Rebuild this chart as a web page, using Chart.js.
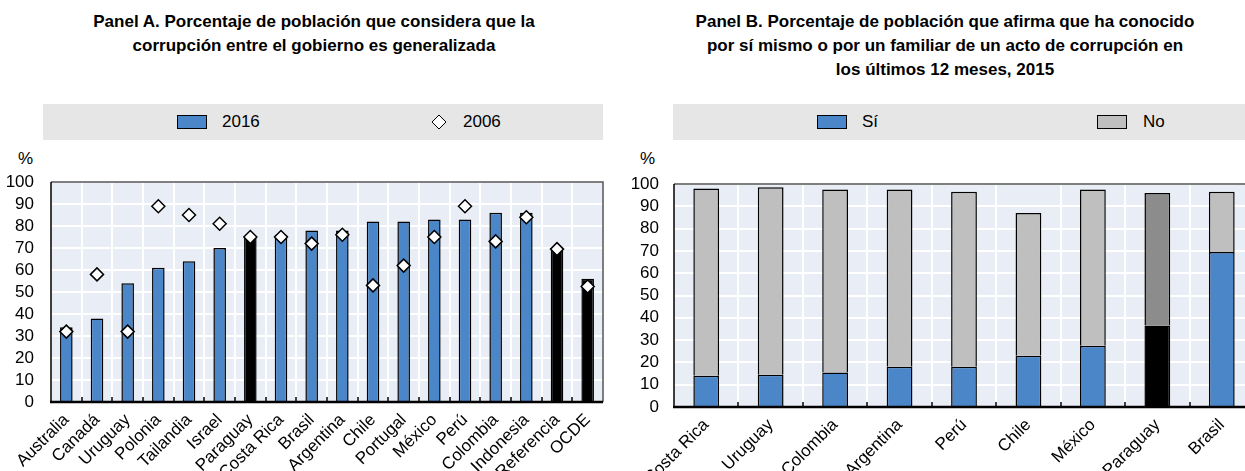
<!DOCTYPE html>
<html>
<head>
<meta charset="utf-8">
<script src="https://cdn.jsdelivr.net/npm/chart.js@4.4.1/dist/chart.umd.min.js"></script>
<style>
  html, body { margin: 0; padding: 0; width: 1245px; height: 471px; overflow: hidden; background: #fff; }
  body { position: relative; font-family: "Liberation Sans", Arial, sans-serif; color: #000; }
  .title { position: absolute; text-align: center; font-weight: bold; font-size: 17px; line-height: 24px; }
  .band { position: absolute; background: #e6e6e6; height: 36px; }
  .leg { position: absolute; font-size: 17px; line-height: 20px; }
  .sw { position: absolute; width: 28px; height: 12px; border: 1px solid #000; }
  .pct { position: absolute; font-size: 17px; }
  canvas { position: absolute; }
</style>
</head>
<body>
<div class="title" style="left:14px; top:10px; width:600px;">Panel A. Porcentaje de población que considera que la<br>corrupción entre el gobierno es generalizada</div>
<div class="title" style="left:645px; top:10px; width:600px;">Panel B. Porcentaje de población que afirma que ha conocido<br>por sí mismo o por un familiar de un acto de corrupción en<br>los últimos 12 meses, 2015</div>

<div class="band" style="left:43px; top:104px; width:560px;"></div>
<div class="sw" style="left:177px; top:115px; background:#4a86c8;"></div>
<div class="leg" style="left:222px; top:112px;">2016</div>
<svg style="position:absolute; left:431px; top:114px;" width="16" height="16"><polygon points="8,1 15,8 8,15 1,8" fill="#fff" stroke="#000" stroke-width="1"/></svg>
<div class="leg" style="left:463px; top:112px;">2006</div>

<div class="band" style="left:673px; top:104px; width:600px;"></div>
<div class="sw" style="left:817px; top:115px; background:#4a86c8;"></div>
<div class="leg" style="left:862px; top:112px;">Sí</div>
<div class="sw" style="left:1097px; top:115px; background:#bfbfbf;"></div>
<div class="leg" style="left:1143px; top:112px;">No</div>

<div class="pct" style="left:18px; top:149px;">%</div>
<div class="pct" style="left:640px; top:149px;">%</div>

<canvas id="cA" width="620" height="301" style="left:0px; top:170px;"></canvas>
<canvas id="cB" width="634" height="301" style="left:620px; top:170px;"></canvas>

<script>
// ---- Data ----
const catsA = ["Australia","Canadá","Uruguay","Polonia","Tailandia","Israel","Paraguay","Costa Rica","Brasil","Argentina","Chile","Portugal","México","Perú","Colombia","Indonesia","Referencia","OCDE"];
const vals2016 = [34, 38, 54, 61, 64, 70, 75, 76, 78, 78, 82, 82, 83, 83, 86, 86, 70, 56];
const vals2006 = [32, 58, 32, 89, 85, 81, 75, 75, 72, 76, 53, 62, 75, 89, 73, 84, 69.5, 52.5];
const highlightA = ["Paraguay","Referencia","OCDE"];

const catsB = ["Costa Rica","Uruguay","Colombia","Argentina","Perú","Chile","México","Paraguay","Brasil"];
const valsSi = [14, 14.5, 15.5, 18, 18, 23, 27.5, 36.5, 69.5];
const valsNo = [84, 84, 82, 79.5, 78.5, 64, 70, 59.5, 27];
const highlightB = ["Paraguay"];

const yTicks = [0,10,20,30,40,50,60,70,80,90,100];

// ---- Styling ----
const BLUE = "#4a86c8", GRAY = "#bfbfbf", DARKGRAY = "#8c8c8c", PLOTBG = "#e9edf5";
const tickFont = { family: "'Liberation Sans', Arial, sans-serif", size: 17 };
const xFont = { family: "'Liberation Sans', Arial, sans-serif", size: 17 };

const plotDeco = {
  id: "plotDeco",
  beforeDatasetsDraw(chart) {
    const { ctx, chartArea: a } = chart;
    const xs = chart.scales.x, ys = chart.scales.y;
    ctx.save();
    ctx.fillStyle = PLOTBG;
    ctx.fillRect(a.left, a.top, a.right - a.left, a.bottom - a.top);
    ctx.strokeStyle = "#ffffff";
    ctx.lineWidth = 2;
    yTicks.forEach(v => {
      const y = Math.round(ys.getPixelForValue(v));
      ctx.beginPath(); ctx.moveTo(a.left, y); ctx.lineTo(a.right, y); ctx.stroke();
    });
    const n = xs.getLabels().length;
    for (let i = 1; i < n; i++) {
      const x = Math.round((xs.getPixelForValue(i - 1) + xs.getPixelForValue(i)) / 2);
      ctx.beginPath(); ctx.moveTo(x, a.top); ctx.lineTo(x, a.bottom); ctx.stroke();
    }
    ctx.restore();
  },
  afterDatasetsDraw(chart) {
    const { ctx, chartArea: a } = chart;
    const xs = chart.scales.x;
    ctx.save();
    ctx.strokeStyle = "#555";
    ctx.lineWidth = 1.5;
    ctx.beginPath();
    ctx.moveTo(a.left, a.top); ctx.lineTo(a.right, a.top); ctx.lineTo(a.right, a.bottom);
    ctx.stroke();
    ctx.strokeStyle = "#000";
    ctx.lineWidth = 1.5;
    const n = xs.getLabels().length;
    for (let i = 1; i < n; i++) {
      const x = Math.round((xs.getPixelForValue(i - 1) + xs.getPixelForValue(i)) / 2);
      ctx.beginPath(); ctx.moveTo(x, a.bottom); ctx.lineTo(x, a.bottom - 5); ctx.stroke();
    }
    ctx.lineWidth = 1.5;
    ctx.beginPath(); ctx.moveTo(a.left, a.top); ctx.lineTo(a.left, a.bottom); ctx.stroke();
    ctx.lineWidth = 2.5;
    ctx.beginPath(); ctx.moveTo(a.left - 1, a.bottom); ctx.lineTo(a.right, a.bottom); ctx.stroke();
    ctx.restore();
  }
};

function scales(yWidth, xHeight, yPad) {
  return {
    x: {
      offset: true,
      grid: { display: false, drawTicks: false },
      border: { display: false },
      ticks: { font: xFont, color: "#000", minRotation: 45, maxRotation: 45, autoSkip: false, padding: 8 },
      afterFit(s) { s.height = xHeight; s.paddingLeft = 0; s.paddingRight = 0; }
    },
    y: {
      min: 0, max: 100,
      afterBuildTicks(s) { s.ticks = yTicks.map(v => ({ value: v })); },
      grid: { display: false, drawTicks: false },
      border: { display: false },
      ticks: { font: tickFont, color: "#000", padding: yPad, autoSkip: false },
      afterFit(s) { s.width = yWidth; s.paddingTop = 0; s.paddingBottom = 0; }
    }
  };
}

Chart.defaults.animation = false;

new Chart(document.getElementById("cA"), {
  type: "bar",
  data: {
    labels: catsA,
    datasets: [
      {
        type: "line", label: "2006", data: vals2006, showLine: false,
        pointStyle: "rectRot", pointRadius: 6.5, pointBackgroundColor: "#fff",
        pointBorderColor: "#000", pointBorderWidth: 1.5, order: 0
      },
      {
        label: "2016", data: vals2016,
        backgroundColor: catsA.map(c => highlightA.includes(c) ? "#000" : BLUE),
        borderColor: "#000", borderWidth: 1.5, categoryPercentage: 1, barPercentage: 0.41, order: 1
      }
    ]
  },
  options: {
    responsive: false,
    layout: { padding: { top: 12, right: 17, left: 0, bottom: 0 } },
    plugins: { legend: { display: false }, tooltip: { enabled: false } },
    scales: scales(51, 69, 17)
  },
  plugins: [plotDeco]
});

const sB = scales(54, 64, 15);
sB.x.stacked = true; sB.y.stacked = true;

new Chart(document.getElementById("cB"), {
  type: "bar",
  data: {
    labels: catsB,
    datasets: [
      {
        label: "Sí", data: valsSi,
        backgroundColor: catsB.map(c => highlightB.includes(c) ? "#000" : BLUE),
        borderColor: "#000", borderWidth: 1.5, categoryPercentage: 1, barPercentage: 0.4
      },
      {
        label: "No", data: valsNo,
        backgroundColor: catsB.map(c => highlightB.includes(c) ? DARKGRAY : GRAY),
        borderColor: "#000", borderWidth: 1.5, categoryPercentage: 1, barPercentage: 0.4
      }
    ]
  },
  options: {
    responsive: false,
    layout: { padding: { top: 14, right: 0, left: 0, bottom: 0 } },
    plugins: { legend: { display: false }, tooltip: { enabled: false } },
    scales: sB
  },
  plugins: [plotDeco]
});
</script>
</body>
</html>
